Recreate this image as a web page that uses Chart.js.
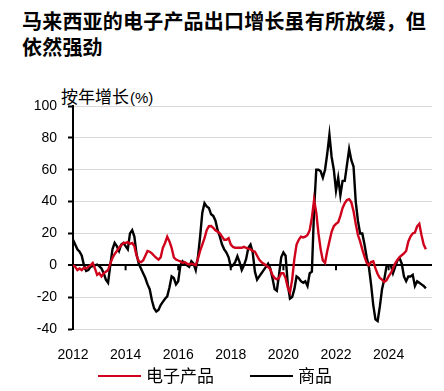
<!DOCTYPE html>
<html>
<head>
<meta charset="utf-8">
<script src="https://cdn.jsdelivr.net/npm/chart.js@4.4.1/dist/chart.umd.min.js"></script>
<style>
    body { margin: 0; background: #fff; width: 444px; height: 391px; overflow: hidden; position: relative; }
    #title { position: absolute; left: 22px; top: 8px; font-family: 'Noto Sans CJK SC'; font-weight: bold; font-size: 20px; line-height: 26px; letter-spacing: 0.2px; color: #000; }
    #unit { position: absolute; left: 61px; top: 85px; font-family: 'Noto Sans CJK SC'; font-size: 17px; line-height: 22px; color: #000; }
    #unit span { font-family: 'Liberation Sans'; font-size: 15px; margin-left: 1px; }
    #legend { position: absolute; left: 0; top: 363px; width: 444px; font-family: 'Noto Sans CJK SC'; font-size: 17px; line-height: 24px; color: #000; }
    .item { position: absolute; top: 0; }
    .item i { display: inline-block; width: 43px; height: 2px; vertical-align: middle; margin-right: 5px; position: relative; top: -1px; }
    canvas { position: absolute; left: 0; top: 0; }
</style>
</head>
<body>
<div id="title">马来西亚的电子产品出口增长虽有所放缓，但<br>依然强劲</div>
<div id="unit">按年增长<span>(%)</span></div>
<canvas id="chart" width="444" height="391"></canvas>
<div id="legend"></div>
<script>
// monthly, Jan 2012 .. Jun 2025, y/y %
const startYear = 2012;
const yearTicks = [2012, 2014, 2016, 2018, 2020, 2022, 2024];
const yTicks = [-40, -20, 0, 20, 40, 60, 80, 100];

const seriesNames = ['电子产品', '商品'];
const seriesColors = ['#d0021b', '#000000'];

const electronics = [
    0, -1, -3, -2, -3, -1.5, -2, -1, 0, 1.5, -2, -6,
    -5, -7, -5, -4, -3, 1, 4.6, 7, 9, 11, 12.5, 14,
    14, 14.5, 13.5, 14, 12, 6, 2.5, 2, 3, 6, 9, 8.5,
    7.5, 6, 4.6, 3.6, 5, 11, 14, 18, 15, 11, 5, 3.6,
    3, 2.5, 1.5, 2, 1, 0.5, 1, 0.5, 0, 4, 9, 13,
    17, 22, 24.5, 24.6, 23.5, 22, 21, 20, 18, 16, 16, 17,
    13, 11.5, 11, 11, 11, 11, 11.6, 11, 10.5, 10, 9, 8.5,
    6, 3.5, 2, 1, 0, -1, -2.5, -6, -8, -8.8, -8, -5,
    -5, -8, -14, -17, -9, 4, 13, 16, 18, 17.5, 18, 19,
    22, 30, 41, 33, 20, 10, 3, 1.5, 9, 15, 21, 24.5,
    26, 27, 31, 36, 39, 41, 41.5, 39.5, 34, 26, 19, 15,
    10, 5.5, 1.5, 0, 2, 2.5, -2, -5.5, -8, -9, -10.5, -9.5,
    -7, -5, -2, 1.3, 3.3, 5.2, 6.3, 7.5, 9, 15, 18, 20,
    20.5, 24.5, 26, 19, 13, 10
];

const goods = [
    16, 13, 10, 8.5, 6, 0, -3.5, -3, -1, -0.5, 0, 0.5,
    -0.5, -2, -5, -9, -11, 0, 10, 14, 12, 9, 13, 14,
    12, 10, 20, 22, 18, 7, 1, -2, -5, -8, -12, -15,
    -22, -27, -29, -28, -25, -23, -21, -19.5, -14, -7, -8, -12,
    -10, 0, 2.5, 1, 0, -1, 2.5, 1, -3, 5, 18, 33,
    39, 37, 36, 32, 31, 28, 22, 18, 13, 10, 8, 5,
    -1, 0, 2, 5.7, 2, -3, 0, 4, 11, 13, 8, -4,
    -9, -7, -5, -3, -1, 1, -2, -8, -15, -16, -6, 5,
    8, 6, -12, -21, -20, -15, -7, -8, -10, -11, -10, -13,
    -5, -4, 35, 60, 60, 59, 55, 60, 70, 82, 68, 60,
    47, 55, 44, 53, 53, 63, 73, 66, 62, 40, 28, 20,
    20, 13, 5, -1, -12, -25, -34, -35, -26, -15, -9, -1,
    0, 0, -5, -1, 3, 4.5, 1, -7, -10, -7, -7, -6,
    -13, -10, -11, -12, -13, -14.5
];

const toPoints = values => values.map((v, i) => ({ x: startYear + i / 12, y: v }));

// small ticks hanging off the zero line at each labelled year
const zeroLineTicks = {
    id: 'zeroLineTicks',
    beforeDatasetsDraw(chart) {
        const x = chart.scales.x, y = chart.scales.y;
        const y0 = y.getPixelForValue(0);
        const ctx = chart.ctx;
        ctx.save();
        ctx.strokeStyle = '#000';
        ctx.lineWidth = 2;
        yearTicks.forEach(t => {
            if (t === startYear) return;
            const px = x.getPixelForValue(t);
            ctx.beginPath();
            ctx.moveTo(px, y0);
            ctx.lineTo(px, y0 + 5);
            ctx.stroke();
        });
        ctx.restore();
    }
};

new Chart(document.getElementById('chart').getContext('2d'), {
    type: 'line',
    data: {
        datasets: [
            {
                label: seriesNames[0],
                data: toPoints(electronics),
                borderColor: seriesColors[0],
                backgroundColor: seriesColors[0],
                borderWidth: 2.4,
                pointRadius: 0,
                tension: 0
            },
            {
                label: seriesNames[1],
                data: toPoints(goods),
                borderColor: seriesColors[1],
                backgroundColor: seriesColors[1],
                borderWidth: 2.4,
                pointRadius: 0,
                tension: 0
            }
        ]
    },
    options: {
        responsive: false,
        animation: false,
        devicePixelRatio: 1,
        layout: { padding: { top: 106, right: 12, left: 0, bottom: 0 } },
        plugins: {
            legend: { display: false },
            tooltip: { enabled: false }
        },
        scales: {
            x: {
                type: 'linear',
                min: 2012,
                max: 2025.65,
                afterBuildTicks: s => { s.ticks = yearTicks.map(v => ({ value: v })); },
                afterFit: s => { s.height = 62; },
                grid: { display: false },
                border: { display: false },
                ticks: {
                    padding: 10,
                    maxRotation: 0,
                    color: '#000',
                    font: { family: 'Liberation Sans', size: 14 },
                    callback: v => String(v)
                }
            },
            y: {
                min: -40,
                max: 100,
                afterBuildTicks: s => { s.ticks = yTicks.map(v => ({ value: v })); },
                afterFit: s => { s.width = 73; },
                grid: {
                    color: c => c.tick && c.tick.value === 0 ? '#000' : '#d9d9d9',
                    lineWidth: c => c.tick && c.tick.value === 0 ? 2 : 1,
                    tickColor: '#000',
                    tickLength: 5,
                    tickWidth: 2
                },
                border: { color: '#000', width: 2 },
                ticks: {
                    padding: 11,
                    color: '#000',
                    font: { family: 'Liberation Sans', size: 14 }
                }
            }
        }
    },
    plugins: [zeroLineTicks]
});

// legend drawn as html
const legend = document.getElementById('legend');
const legendX = [98, 250];
seriesNames.forEach((name, i) => {
    const item = document.createElement('span');
    item.className = 'item';
    item.style.left = legendX[i] + 'px';
    item.innerHTML = '<i style="background:' + seriesColors[i] + '"></i>' + name;
    legend.appendChild(item);
});
</script>
</body>
</html>
